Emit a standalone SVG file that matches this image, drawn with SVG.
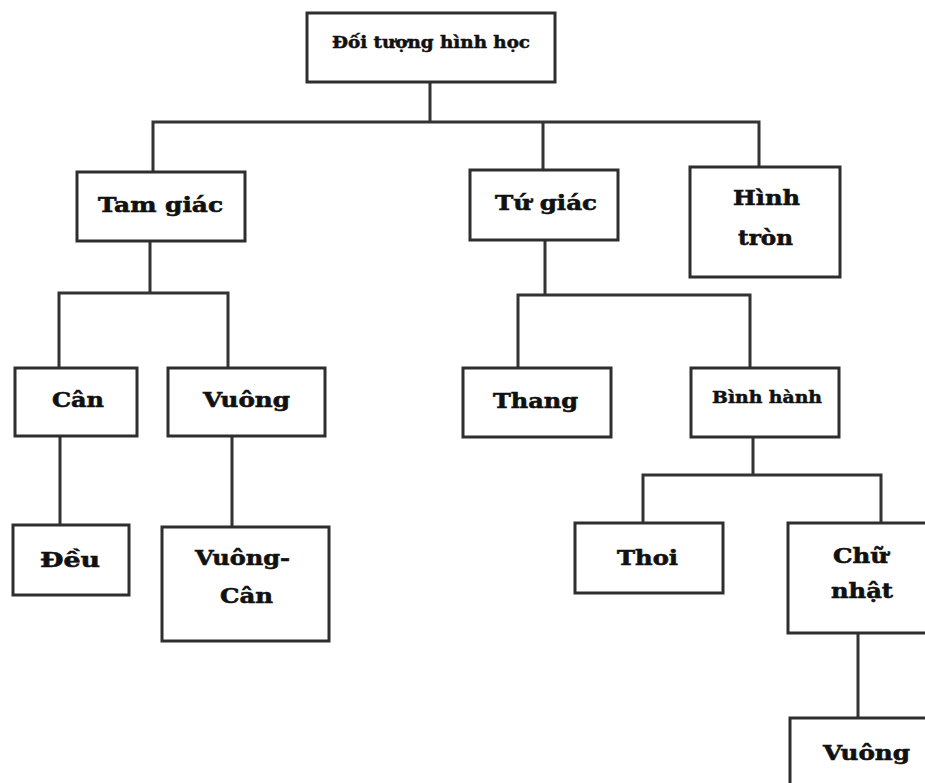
<svg xmlns="http://www.w3.org/2000/svg" width="925" height="783" viewBox="0 0 925 783">
<style>
.box{fill:#fff;stroke:#2e2e2e;stroke-width:3}
.con{fill:none;stroke:#333;stroke-width:3;stroke-linecap:square}
text{font-family:"DejaVu Serif","Liberation Serif",serif;font-weight:bold;font-size:21px;fill:#111;stroke:#111;stroke-width:0.6;text-anchor:middle}
.sm{font-size:16px;stroke-width:0.5}
</style>
<rect width="925" height="783" fill="#fff"/>
<g id="connectors">
<path class="con" d="M430,82 V122 M153,122 H759 M153,122 V172 M543,122 V170 M759,122 V167"/>
<path class="con" d="M150,241 V293 M59,293 H228 M59,293 V368 M228,293 V368"/>
<path class="con" d="M545,240 V295 M518,295 H750 M518,295 V368 M750,295 V368"/>
<path class="con" d="M60,436 V525 M232,436 V527"/>
<path class="con" d="M753,437 V475 M643,475 H881 M643,475 V523 M881,475 V523"/>
<path class="con" d="M858,633 V718"/>
</g>
<g id="root"><rect class="box" x="307" y="13" width="248" height="69"/><text class="sm" x="431" y="48" textLength="198" lengthAdjust="spacingAndGlyphs">Đối tượng hình học</text></g>
<g id="tamgiac"><rect class="box" x="77" y="172" width="168" height="69"/><text x="160.5" y="212" textLength="125" lengthAdjust="spacingAndGlyphs">Tam giác</text></g>
<g id="tugiac"><rect class="box" x="470" y="170" width="148" height="70"/><text x="546" y="210" textLength="102" lengthAdjust="spacingAndGlyphs">Tứ giác</text></g>
<g id="hinhtron"><rect class="box" x="690" y="167" width="150" height="110"/><text x="766.5" y="205" textLength="67" lengthAdjust="spacingAndGlyphs">Hình</text><text x="765.5" y="245" textLength="55" lengthAdjust="spacingAndGlyphs">tròn</text></g>
<g id="can"><rect class="box" x="15" y="368" width="122" height="68"/><text x="78" y="407" textLength="52" lengthAdjust="spacingAndGlyphs">Cân</text></g>
<g id="vuong"><rect class="box" x="168" y="368" width="157" height="68"/><text x="246.5" y="407" textLength="87" lengthAdjust="spacingAndGlyphs">Vuông</text></g>
<g id="thang"><rect class="box" x="463" y="368" width="148" height="69"/><text x="535.5" y="408" textLength="85" lengthAdjust="spacingAndGlyphs">Thang</text></g>
<g id="binhhanh"><rect class="box" x="691" y="368" width="148" height="69"/><text class="sm" x="767" y="403" textLength="110" lengthAdjust="spacingAndGlyphs">Bình hành</text></g>
<g id="deu"><rect class="box" x="13" y="525" width="116" height="70"/><text x="70" y="567" textLength="60" lengthAdjust="spacingAndGlyphs">Đều</text></g>
<g id="vuongcan"><rect class="box" x="162" y="527" width="167" height="114"/><text x="242.5" y="565" textLength="95" lengthAdjust="spacingAndGlyphs">Vuông-</text><text x="246.5" y="603" textLength="53" lengthAdjust="spacingAndGlyphs">Cân</text></g>
<g id="thoi"><rect class="box" x="575" y="523" width="148" height="70"/><text x="647.5" y="565" textLength="61" lengthAdjust="spacingAndGlyphs">Thoi</text></g>
<g id="chunhat"><rect class="box" x="788" y="523" width="152" height="110"/><text x="860.5" y="563" textLength="55" lengthAdjust="spacingAndGlyphs">Chữ</text><text x="862" y="598" textLength="62" lengthAdjust="spacingAndGlyphs">nhật</text></g>
<g id="vuong2"><rect class="box" x="790" y="718" width="150" height="80"/><text x="866.5" y="760" textLength="87" lengthAdjust="spacingAndGlyphs">Vuông</text></g>
</svg>
